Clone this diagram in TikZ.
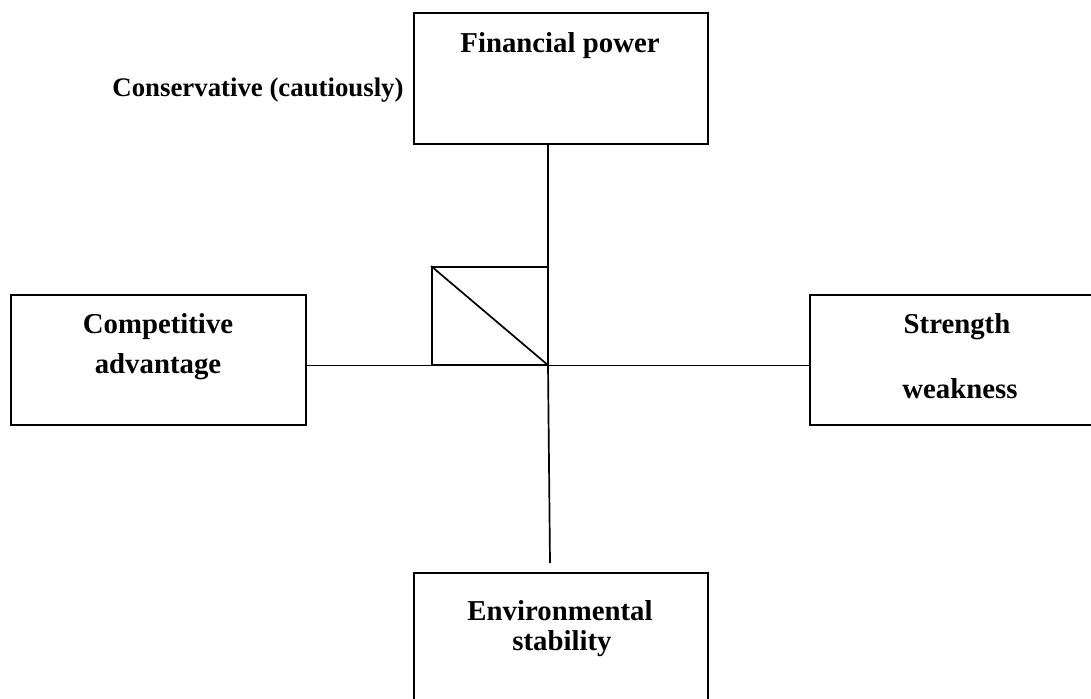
\documentclass[tikz,border=0pt]{standalone}
\usepackage{fontspec}
\setmainfont{Liberation Serif}
\begin{document}
\begin{tikzpicture}[x=1pt,y=-1pt,
  box/.style={draw, line width=1.9pt, inner sep=0pt},
  lbl/.style={font=\fontsize{28.8}{30}\selectfont\bfseries, anchor=base, inner sep=0pt},
  conn/.style={line width=1.7pt}]
\useasboundingbox[fill=white] (0,0) rectangle (1091,698);
% boxes
\node[box, minimum width=294pt, minimum height=131pt] (fin) at (561,78.5) {};
\node[box, minimum width=295pt, minimum height=130pt] (comp) at (158.5,360) {};
\node[box, minimum width=290pt, minimum height=130pt] (str) at (955,360) {};
\node[box, minimum width=294pt, minimum height=147pt] (env) at (561,646.5) {};
\node[box, minimum width=116pt, minimum height=98pt] (sq) at (490,316) {};
\draw[conn] (sq.north west) -- (sq.south east);
% labels
\node[lbl] (tfin) at (560,53) {Financial power};
\node[lbl, font=\fontsize{26.8}{28}\selectfont\bfseries] (tcons) at (258,96) {Conservative (cautiously)};
\node[lbl] (tcomp1) at (158,333) {Competitive};
\node[lbl] (tcomp2) at (158,373) {advantage};
\node[lbl] (tstr1) at (957,333) {Strength};
\node[lbl] (tstr2) at (960,398) {weakness};
\node[lbl] (tenv1) at (560,620) {Environmental};
\node[lbl] (tenv2) at (562,650) {stability};
% connectors
\coordinate (c) at (548,365.5);
\coordinate (tail) at (550,563);
\draw[conn] (fin.south -| c) -- (c);
\draw[conn] (comp.east |- c) -- (str.west |- c);
\draw[conn] (c) -- (tail);
\end{tikzpicture}
\end{document}
